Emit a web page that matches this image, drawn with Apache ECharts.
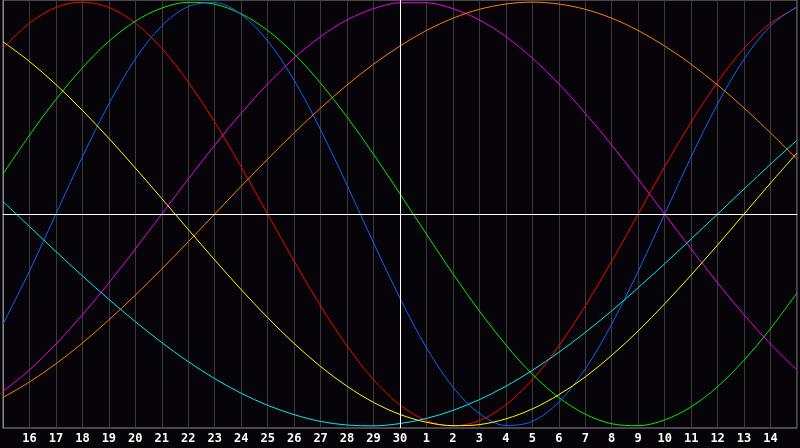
<!DOCTYPE html>
<html>
<head>
<meta charset="utf-8">
<script src="https://cdn.jsdelivr.net/npm/echarts@6/dist/echarts.min.js"></script>
<style>
html,body{margin:0;padding:0;background:#060409;}
#chart{width:800px;height:448px;}
</style>
</head>
<body>
<div id="chart"></div>
<script>
// Day labels (15th of one month to the 15th of the next)
var days = ['15','16','17','18','19','20','21','22','23','24','25','26','27','28','29','30',
            '1','2','3','4','5','6','7','8','9','10','11','12','13','14','15'];

// Values in percent, one per day
var redValues     = [78.2,90.1,97.5,100,97.5,90.1,78.2,62.3,43.4,22.3,0,-22.3,-43.4,-62.3,-78.2,-90.1,-97.5,-100,-97.5,-90.1,-78.2,-62.3,-43.4,-22.3,0,22.3,43.4,62.3,78.2,90.1,97.5];
var blueValues    = [-52.0,-27.0,0,27.0,52.0,73.1,88.8,97.9,99.8,94.2,81.7,63.1,39.8,13.6,-13.6,-39.8,-63.1,-81.7,-94.2,-99.8,-97.9,-88.8,-73.1,-52.0,-27.0,0,27.0,52.0,73.1,88.8,97.9];
var greenValues   = [18.9,37.2,54.1,69.0,81.5,91.0,97.2,99.9,99.0,94.5,86.6,75.6,61.8,45.8,28.2,9.5,-9.5,-28.2,-45.8,-61.8,-75.6,-86.6,-94.5,-99.0,-99.9,-97.2,-91.0,-81.5,-69.0,-54.1,-37.2];
var magentaValues = [-83.7,-73.6,-61.4,-47.6,-32.5,-16.5,0,16.5,32.5,47.6,61.4,73.6,83.7,91.6,96.9,99.7,99.7,96.9,91.6,83.7,73.6,61.4,47.6,32.5,16.5,0,-16.5,-32.5,-47.6,-61.4,-73.6];
var orangeValues  = [-86.6,-79.3,-70.7,-60.9,-50,-38.3,-25.9,-13.1,0,13.1,25.9,38.3,50,60.9,70.7,79.3,86.6,92.4,96.6,99.1,100,99.1,96.6,92.4,86.6,79.3,70.7,60.9,50,38.3,25.9];
var yellowValues  = [81.3,72.0,61.1,48.9,35.7,21.7,7.3,-7.3,-21.7,-35.7,-48.9,-61.1,-72.0,-81.3,-88.9,-94.6,-98.3,-99.9,-99.4,-96.7,-92.0,-85.3,-76.9,-66.7,-55.2,-42.4,-28.8,-14.6,0,14.6,28.8];
var cyanValues    = [5.9,-5.9,-17.7,-29.2,-40.3,-50.8,-60.7,-69.7,-77.7,-84.6,-90.3,-94.7,-97.9,-99.6,-100,-98.9,-96.5,-92.7,-87.6,-81.3,-73.8,-65.3,-55.9,-45.7,-34.8,-23.5,-11.8,0,11.8,23.5,34.8];

var seriesDefs = [
  {name:'red', data:redValues, color:'#ff0000'},
  {name:'green', data:greenValues, color:'#00f000'},
  {name:'blue', data:blueValues, color:'#0a64ff'},
  {name:'magenta', data:magentaValues, color:'#f000f0'},
  {name:'orange', data:orangeValues, color:'#ff8000'},
  {name:'yellow', data:yellowValues, color:'#ffff00'},
  {name:'cyan', data:cyanValues, color:'#00f0f0'}
];

var chart = echarts.init(document.getElementById('chart'), null, {renderer:'canvas'});

var series = seriesDefs.map(function(s){
  return {
    name:s.name, type:'line', data:s.data, smooth:0.33, showSymbol:false, symbol:'none',
    lineStyle:{color:s.color, width:1}, itemStyle:{color:s.color}, z:3
  };
});
series.push({
  type:'line', data:[], silent:true,
  markLine:{
    silent:true, symbol:['none','none'], label:{show:false},
    lineStyle:{color:'#ffffff', width:1, type:'solid'},
    data:[{xAxis:15},{yAxis:0}]
  },
  z:2
});

chart.setOption({
  animation:false,
  backgroundColor:'#060409',
  grid:{left:0, right:-1, top:0, bottom:20, show:true, borderColor:'#8a8a8a', borderWidth:1, backgroundColor:'#060409'},
  xAxis:{
    type:'category', data:days, boundaryGap:false,
    axisLine:{show:true, lineStyle:{color:'#b0b0b0', width:1}},
    axisTick:{show:false},
    splitLine:{show:true, lineStyle:{color:'#3a3a3a', width:1}},
    axisLabel:{
      interval:0, color:'#ffffff', fontFamily:'DejaVu Sans Mono', fontWeight:'bold', fontSize:12, margin:5,
      formatter:function(v, i){ return (i===0 || i===days.length-1) ? '' : v; }
    }
  },
  yAxis:{
    type:'value', min:-101, max:101,
    axisLine:{show:true, lineStyle:{color:'#8a8a8a'}},
    axisTick:{show:false}, axisLabel:{show:false}, splitLine:{show:false}
  },
  series:series
});
</script>
</body>
</html>
